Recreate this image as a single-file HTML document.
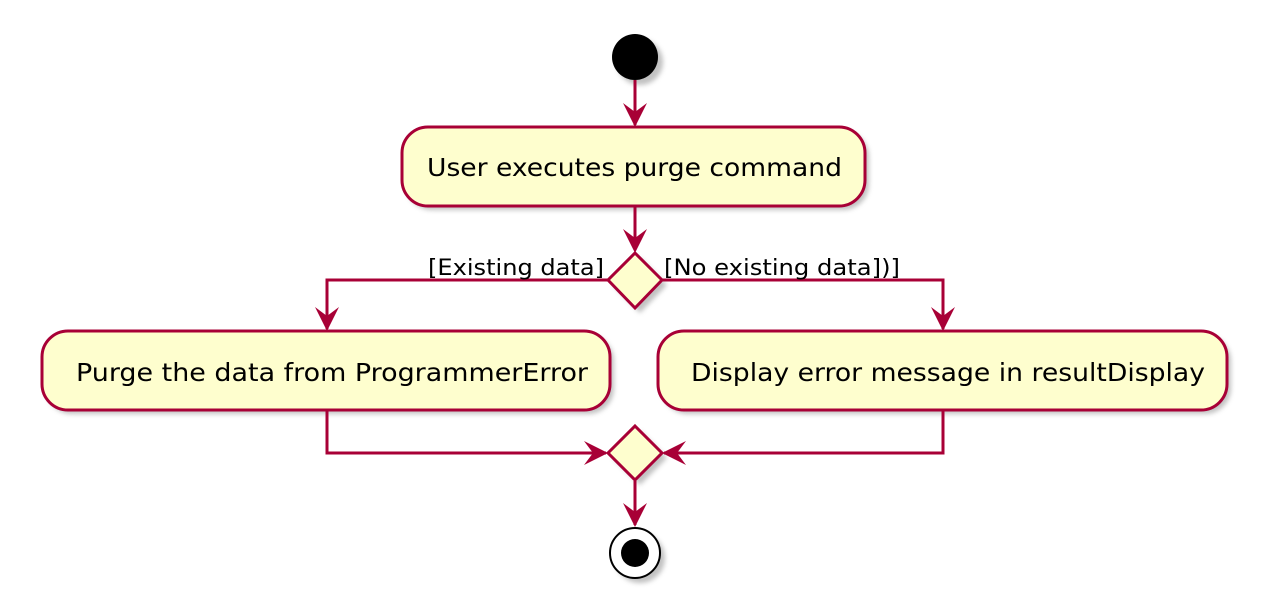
<!DOCTYPE html>
<html><head><style>body{margin:0;background:#fff}</style></head><body>
<svg width="1284" height="606" xmlns="http://www.w3.org/2000/svg" font-family="'DejaVu Sans','Liberation Sans',sans-serif">
<defs>
<filter id="sh" x="-20%" y="-20%" width="150%" height="160%"><feGaussianBlur stdDeviation="2.5"/></filter>
</defs>
<g fill="#999" opacity="0.6" filter="url(#sh)">
<circle cx="640" cy="62" r="23"/>
<rect x="406" y="131" width="463" height="79" rx="26"/>
<polygon points="640,258 667,285 640,313 613,285"/>
<rect x="46" y="335" width="568" height="79" rx="26"/>
<rect x="662" y="335" width="569" height="79" rx="26"/>
<polygon points="640,431 667,458 640,485 613,458"/>
<circle cx="640" cy="558" r="25"/>
</g>
<g stroke="#a80036" stroke-width="3" fill="none">
<line x1="635" y1="80" x2="635" y2="125"/>
<line x1="635" y1="206" x2="635" y2="250"/>
<polyline points="608,280 327,280 327,329"/>
<polyline points="662,280 943,280 943,329"/>
<polyline points="327,410 327,453 606,453"/>
<polyline points="943,410 943,453 664,453"/>
<line x1="635" y1="481" x2="635" y2="525"/>
</g>
<g fill="#a80036">
<polygon points="623,103 635,127 647,103 635,112"/>
<polygon points="623,229 635,253 647,229 635,238"/>
<polygon points="315,307 327,331 339,307 327,316"/>
<polygon points="931,307 943,331 955,307 943,316"/>
<polygon points="584,441 608,453 584,465 593,453"/>
<polygon points="686,441 662,453 686,465 677,453"/>
<polygon points="623,503 635,527 647,503 635,512"/>
</g>
<circle cx="635" cy="57" r="23" fill="#000"/>
<g fill="#fefece" stroke="#a80036" stroke-width="3">
<rect x="402" y="127" width="463" height="79" rx="26"/>
<polygon points="635,253 662,280 635,308 608,280"/>
<rect x="42" y="331" width="568" height="79" rx="26"/>
<rect x="658" y="331" width="569" height="79" rx="26"/>
<polygon points="635,426 662,453 635,480 608,453"/>
</g>
<circle cx="635" cy="553" r="25" fill="#fff" stroke="#000" stroke-width="2"/>
<circle cx="635" cy="553" r="14" fill="#000"/>
<g fill="#000" font-size="25">
<text x="427" y="176" textLength="415" lengthAdjust="spacingAndGlyphs">User executes purge command</text>
<text x="76" y="381" textLength="512" lengthAdjust="spacingAndGlyphs">Purge the data from ProgrammerError</text>
<text x="691" y="381" textLength="514" lengthAdjust="spacingAndGlyphs">Display error message in resultDisplay</text>
</g>
<g fill="#000" font-size="22">
<text x="428" y="275" textLength="176" lengthAdjust="spacingAndGlyphs">[Existing data]</text>
<text x="664" y="275" textLength="236" lengthAdjust="spacingAndGlyphs">[No existing data])]</text>
</g>
</svg>
</body></html>
